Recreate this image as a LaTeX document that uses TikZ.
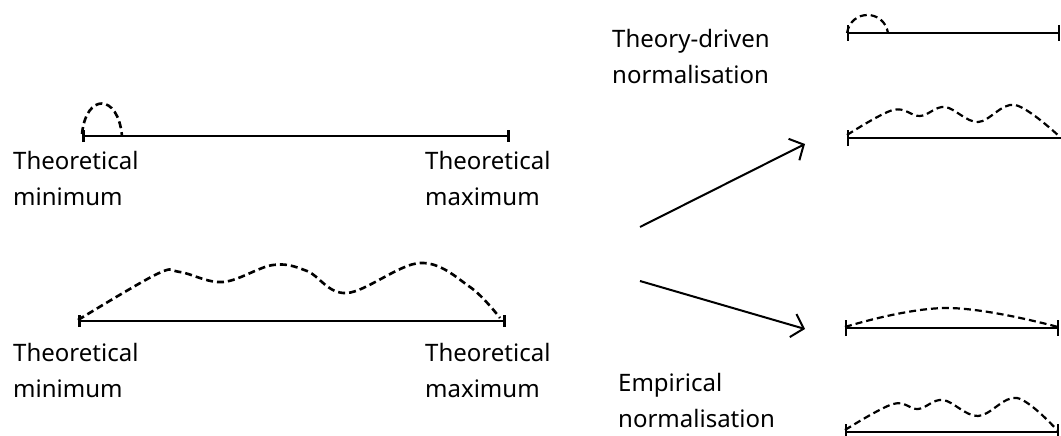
\documentclass[tikz,border=0pt]{standalone}
\usepackage{fontspec}
\setmainfont{Noto Sans}
\usetikzlibrary{arrows.meta}
\begin{document}
\begin{tikzpicture}[x=1pt,y=-1pt,
  axis/.style={line width=2.7pt,{Bar[width=12pt,line width=2.7pt]}-{Bar[width=12pt,line width=2.7pt]}},
  axisR/.style={line width=2.1pt,{Bar[width=16pt,line width=2.1pt]}-{Bar[width=16pt,line width=2.1pt]}},
  dist/.style={line width=2.6pt,dash pattern=on 7pt off 4pt},
  lbl/.style={anchor=north west,inner sep=0pt,align=left,font=\fontsize{24}{36}\selectfont},
  conn/.style={line width=2pt,-{Straight Barb[length=11pt,width=24pt,line width=2pt]}}]
\useasboundingbox (0,0) rectangle (1061,436);
% left top axis
\coordinate (a1l) at (82,136);
\coordinate (a1r) at (510,136);
\draw[axis] (a1l) -- (a1r);
\draw[dist] (82,134) .. controls (86,93) and (118,93) .. (122,136);
\node[lbl] (l1) at (13,151) {Theoretical\\minimum};
\node[lbl] (l2) at (425,151) {Theoretical\\maximum};
% left bottom axis
\coordinate (a2l) at (78,321);
\coordinate (a2r) at (506,321);
\draw[axis] (a2l) -- (a2r);
\draw[dist] plot[smooth,tension=0.6] coordinates {(78,320) (157,274) (180,272) (223,282) (273,265) (307,271) (347,293) (420,263) (470,287) (500,318)};
\node[lbl] (l3) at (13,343) {Theoretical\\minimum};
\node[lbl] (l4) at (425,343) {Theoretical\\maximum};
% arrows
\coordinate (s1) at (640,227);
\coordinate (e1) at (805,144);
\coordinate (s2) at (640,281);
\coordinate (e2) at (805,329);
\draw[conn] (s1) -- (e1);
\draw[conn] (s2) -- (e2);
% right labels
\node[lbl] (l5) at (612,29) {Theory-driven\\normalisation};
\node[lbl] (l6) at (618,373) {Empirical\\normalisation};
% right axes
\coordinate (r1l) at (847,33);
\coordinate (r1r) at (1060,33);
\draw[axisR] (r1l) -- (r1r);
\draw[dist,line width=2.2pt] (847,33) .. controls (851,9) and (884,9) .. (888,33);
\coordinate (r2l) at (847,138);
\coordinate (r2r) at (1070,138);
\draw[axisR] (r2l) -- (r2r);
\draw[dist,line width=2.2pt] plot[smooth,tension=0.6] coordinates {(847,135) (893,110) (920,116) (945,107) (978,122) (1015,105) (1060,137)};
\coordinate (r3l) at (845,328);
\coordinate (r3r) at (1059,328);
\draw[axisR] (r3l) -- (r3r);
\draw[dist,line width=2.2pt] plot[smooth,tension=0.7] coordinates {(845,327) (947,308) (1058,327)};
\coordinate (r4l) at (845,432);
\coordinate (r4r) at (1059,432);
\draw[axisR] (r4l) -- (r4r);
\draw[dist,line width=2.2pt] plot[smooth,tension=0.6] coordinates {(845,430) (893,404) (918,409) (943,400) (978,416) (1017,398) (1057,430)};
\end{tikzpicture}
\end{document}
